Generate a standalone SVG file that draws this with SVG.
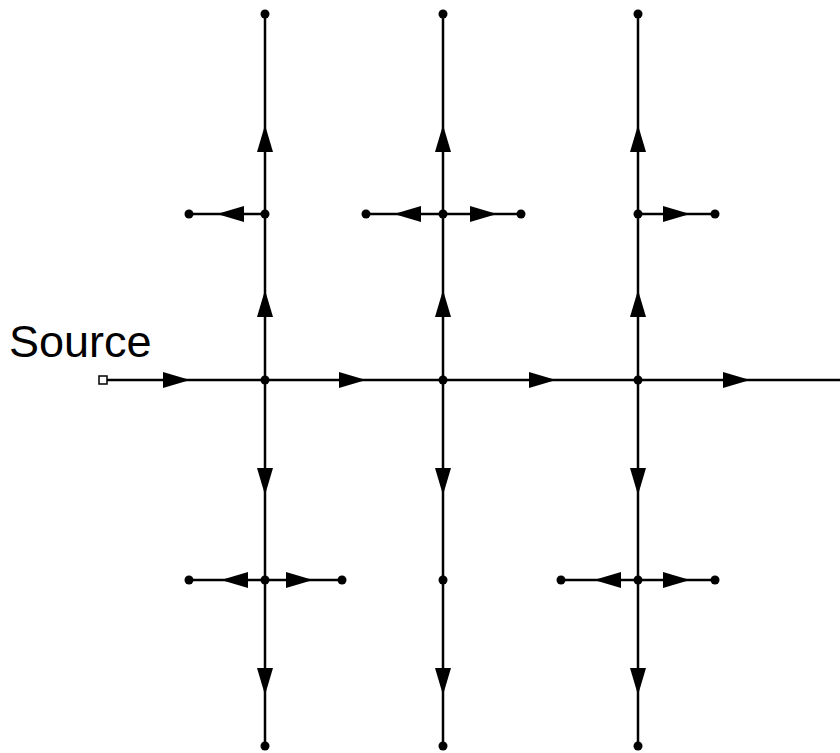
<svg xmlns="http://www.w3.org/2000/svg" xmlns:xlink="http://www.w3.org/1999/xlink" width="840" height="753" viewBox="0 0 840 753">
<style>
.ln{stroke:#000;stroke-width:2.5;fill:none}
.dot{fill:#000}
.ah{fill:#000}
.lbl{font-family:"Liberation Sans",Arial,sans-serif;font-size:45px;fill:#000}
</style>
<defs>
<path id="a" class="ah" d="M0,0 L-27,-8 L-27,8 Z"/>
</defs>
<rect width="840" height="753" fill="#fff"/>
<g id="connectors">
<line class="ln" x1="107" y1="380" x2="840" y2="380"/>
<line class="ln" x1="265" y1="14" x2="265" y2="746"/>
<line class="ln" x1="443" y1="14" x2="443" y2="746"/>
<line class="ln" x1="638" y1="14" x2="638" y2="746"/>
<line class="ln" x1="189" y1="214" x2="265" y2="214"/>
<line class="ln" x1="366" y1="214" x2="521" y2="214"/>
<line class="ln" x1="638" y1="214" x2="715" y2="214"/>
<line class="ln" x1="189" y1="580" x2="342" y2="580"/>
<line class="ln" x1="561" y1="580" x2="715" y2="580"/>
<use xlink:href="#a" transform="translate(190,380)"/>
<use xlink:href="#a" transform="translate(366,380)"/>
<use xlink:href="#a" transform="translate(556,380)"/>
<use xlink:href="#a" transform="translate(750,380)"/>
<use xlink:href="#a" transform="translate(265,290) rotate(-90)"/>
<use xlink:href="#a" transform="translate(265,125) rotate(-90)"/>
<use xlink:href="#a" transform="translate(265,495) rotate(90)"/>
<use xlink:href="#a" transform="translate(265,695) rotate(90)"/>
<use xlink:href="#a" transform="translate(443,290) rotate(-90)"/>
<use xlink:href="#a" transform="translate(443,125) rotate(-90)"/>
<use xlink:href="#a" transform="translate(443,495) rotate(90)"/>
<use xlink:href="#a" transform="translate(443,695) rotate(90)"/>
<use xlink:href="#a" transform="translate(638,290) rotate(-90)"/>
<use xlink:href="#a" transform="translate(638,125) rotate(-90)"/>
<use xlink:href="#a" transform="translate(638,495) rotate(90)"/>
<use xlink:href="#a" transform="translate(638,695) rotate(90)"/>
<use xlink:href="#a" transform="translate(217,214) rotate(180)"/>
<use xlink:href="#a" transform="translate(394,214) rotate(180)"/>
<use xlink:href="#a" transform="translate(497,214)"/>
<use xlink:href="#a" transform="translate(690,214)"/>
<use xlink:href="#a" transform="translate(221,580) rotate(180)"/>
<use xlink:href="#a" transform="translate(313,580)"/>
<use xlink:href="#a" transform="translate(594,580) rotate(180)"/>
<use xlink:href="#a" transform="translate(690,580)"/>
</g>
<g id="source"><rect x="99" y="376" width="8" height="8" fill="#fff" stroke="#000" stroke-width="1.5"/><text class="lbl" x="9" y="357">Source</text></g>
<g id="n1-top"><circle class="dot" cx="265" cy="14" r="4.5"/></g>
<g id="n1-upper"><circle class="dot" cx="265" cy="214" r="4.5"/></g>
<g id="n1-main"><circle class="dot" cx="265" cy="380" r="4.5"/></g>
<g id="n1-lower"><circle class="dot" cx="265" cy="580" r="4.5"/></g>
<g id="n1-bottom"><circle class="dot" cx="265" cy="746" r="4.5"/></g>
<g id="n1-ul"><circle class="dot" cx="189" cy="214" r="4.5"/></g>
<g id="n1-ll"><circle class="dot" cx="189" cy="580" r="4.5"/></g>
<g id="n1-lr"><circle class="dot" cx="342" cy="580" r="4.5"/></g>
<g id="n2-top"><circle class="dot" cx="443" cy="14" r="4.5"/></g>
<g id="n2-upper"><circle class="dot" cx="443" cy="214" r="4.5"/></g>
<g id="n2-main"><circle class="dot" cx="443" cy="380" r="4.5"/></g>
<g id="n2-lower"><circle class="dot" cx="443" cy="580" r="4.5"/></g>
<g id="n2-bottom"><circle class="dot" cx="443" cy="746" r="4.5"/></g>
<g id="n2-ul"><circle class="dot" cx="366" cy="214" r="4.5"/></g>
<g id="n2-ur"><circle class="dot" cx="521" cy="214" r="4.5"/></g>
<g id="n3-top"><circle class="dot" cx="638" cy="14" r="4.5"/></g>
<g id="n3-upper"><circle class="dot" cx="638" cy="214" r="4.5"/></g>
<g id="n3-main"><circle class="dot" cx="638" cy="380" r="4.5"/></g>
<g id="n3-lower"><circle class="dot" cx="638" cy="580" r="4.5"/></g>
<g id="n3-bottom"><circle class="dot" cx="638" cy="746" r="4.5"/></g>
<g id="n3-ur"><circle class="dot" cx="715" cy="214" r="4.5"/></g>
<g id="n3-ll"><circle class="dot" cx="561" cy="580" r="4.5"/></g>
<g id="n3-lr"><circle class="dot" cx="715" cy="580" r="4.5"/></g>
</svg>
